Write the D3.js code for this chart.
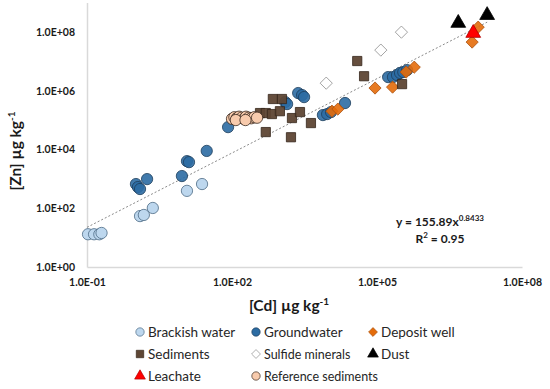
<!DOCTYPE html>
<html>
<head>
<meta charset="utf-8">
<script src="https://cdn.jsdelivr.net/npm/d3@7"></script>
<style>
  body { margin: 0; background: #fff; }
  text { font-family: Lato, "Open Sans", sans-serif; }
</style>
</head>
<body>
<svg id="chart" width="550" height="389"></svg>
<script>
// [Cd, Zn] pairs in µg/kg
const brackishWater = [
  [0.105, 13], [0.14, 13], [0.18, 13], [0.2, 14.4],
  [1.25, 54], [1.5, 59], [2.3, 102], [11.7, 390], [24, 665]
];
const groundwater = [
  [1.03, 665], [1.13, 525], [1.25, 450], [1.75, 980], [9.2, 1245],
  [11.7, 4000], [12.9, 3700], [30, 8900], [83, 57500],
  [1260, 410000], [1380, 350000], [2340, 830000], [2820, 710000], [3100, 605000],
  [7600, 148000], [9300, 160000], [11200, 187000], [21800, 380000],
  [170000, 2.9e6], [214000, 2.9e6], [260000, 3.4e6], [300000, 4.0e6],
  [350000, 4.3e6], [420000, 5.0e6]
];
const depositWell = [
  [11700, 2.0e5], [15500, 2.36e5], [91000, 1.23e6], [210000, 1.32e6],
  [400000, 4.3e6], [590000, 6.3e6], [9.3e6, 4.5e7], [1.24e7, 1.45e8]
];
const sediments = [
  [380, 1.73e5], [500, 1.73e5], [670, 1.6e5], [700, 5.2e5], [1080, 5.2e5],
  [980, 2.0e5], [1740, 1.17e5], [2550, 1.87e5], [4300, 7.9e4], [500, 3.9e4],
  [1660, 2.6e4], [39000, 1.02e7], [54000, 3.1e6], [330000, 1.67e6]
];
const sulfideMinerals = [[8900, 1.8e6], [120000, 2.4e7], [320000, 9.8e7]];
const dust = [[4.8e6, 2.0e8], [1.9e7, 3.7e8]];
const leachate = [[9.8e6, 9.1e7]];
const referenceSediments = [
  [100, 1.1e5], [112, 1.25e5], [125, 1.15e5], [140, 1.3e5], [158, 1.2e5],
  [175, 1.1e5], [195, 1.3e5], [220, 1.2e5], [250, 1.15e5], [290, 1.25e5],
  [330, 1.2e5], [120, 1.0e5], [190, 1.0e5]
];

const xTicks = [0.1, 1e2, 1e5, 1e8];
const yTicks = [1, 1e2, 1e4, 1e6, 1e8];

// power fit shown on the chart
const fitA = 155.89;
const fitB = 0.8433;
const fitR2 = 0.95;

const series = [
  { name: "Brackish water", data: brackishWater, shape: "circle", fill: "#bdd7ee", stroke: "#4d6b85" },
  { name: "Groundwater", data: groundwater, shape: "circle", fill: "#2c6ca3", stroke: "#1d3d5c", opacity: 0.9 },
  { name: "Deposit well", data: depositWell, shape: "diamond", fill: "#e46c0a", stroke: "#a9500f", opacity: 0.9 },
  { name: "Sediments", data: sediments, shape: "square", fill: "#5e4634", stroke: "#35261a", opacity: 0.95 },
  { name: "Sulfide minerals", data: sulfideMinerals, shape: "diamond", fill: "#ffffff", stroke: "#8c8c8c", font: "Liberation Sans" },
  { name: "Dust", data: dust, shape: "triangle", fill: "#000000", stroke: "#000000" },
  { name: "Leachate", data: leachate, shape: "triangle", fill: "#ff0000", stroke: "#b00000" },
  { name: "Reference sediments", data: referenceSediments, shape: "circle", fill: "#f8cbad", stroke: "#3a2a20", font: "Liberation Sans" }
];

const svg = d3.select("#chart");

const x = d3.scaleLog().domain([0.1, 1e8]).range([87, 522]);
const y = d3.scaleLog().domain([1, 1e9]).range([267, 2.5]);

function sciFormat(d) {
  const e = Math.round(Math.log10(d));
  return "1.0E" + (e < 0 ? "-" : "+") + String(Math.abs(e)).padStart(2, "0");
}

const symbolTypes = {
  circle: d3.symbolCircle,
  square: d3.symbolSquare,
  diamond: d3.symbolDiamond2,
  triangle: d3.symbolTriangle
};
const symbolSizes = { circle: 100, square: 85, diamond: 95, triangle: 95 };

// axes
const xAxis = svg.append("g")
  .attr("transform", "translate(0,267)")
  .call(d3.axisBottom(x).tickValues(xTicks).tickFormat(sciFormat).tickSize(0).tickPadding(12));

const yAxis = svg.append("g")
  .attr("transform", "translate(87,0)")
  .call(d3.axisLeft(y).tickValues(yTicks).tickFormat(sciFormat).tickSize(0).tickPadding(12));

[xAxis, yAxis].forEach(function (ax) {
  ax.select(".domain").attr("stroke", "#d9d9d9").attr("stroke-width", 1.5);
  ax.selectAll("text")
    .attr("font-family", "Lato, sans-serif")
    .attr("font-size", 10.5)
    .attr("font-weight", "bold")
    .attr("fill", "#1a1a1a");
});

// trend line
const xMax = d3.max(series, s => d3.max(s.data, d => d[0]));
svg.append("path")
  .datum([0.1, xMax])
  .attr("fill", "none")
  .attr("stroke", "#8a8a8a")
  .attr("stroke-width", 1)
  .attr("stroke-dasharray", "2,2")
  .attr("d", d3.line().x(d => x(d)).y(d => y(fitA * Math.pow(d, fitB))));

// points
series.forEach(function (s) {
  svg.append("g")
    .selectAll("path")
    .data(s.data)
    .enter()
    .append("path")
    .attr("transform", d => "translate(" + x(d[0]) + "," + y(d[1]) + ")")
    .attr("d", d3.symbol().type(symbolTypes[s.shape]).size(symbolSizes[s.shape]))
    .attr("fill", s.fill)
    .attr("fill-opacity", s.opacity || 1)
    .attr("stroke", s.stroke)
    .attr("stroke-width", 0.8);
});

// equation
const eq = svg.append("text")
  .attr("x", 440).attr("y", 226)
  .attr("text-anchor", "middle")
  .attr("font-size", 12).attr("font-weight", "bold").attr("fill", "#1a1a1a");
eq.append("tspan").text("y = " + fitA + "x");
eq.append("tspan").attr("dy", -5).attr("font-size", 8).text(String(fitB));

const r2 = svg.append("text")
  .attr("x", 440).attr("y", 243)
  .attr("text-anchor", "middle")
  .attr("font-size", 12).attr("font-weight", "bold").attr("fill", "#1a1a1a");
r2.append("tspan").text("R");
r2.append("tspan").attr("dy", -5).attr("font-size", 8).text("2");
r2.append("tspan").attr("dy", 5).text(" = " + fitR2.toFixed(2));

// axis titles
const xTitle = svg.append("text")
  .attr("x", 289).attr("y", 311)
  .attr("text-anchor", "middle")
  .attr("font-size", 15.5).attr("font-weight", "bold").attr("fill", "#1a1a1a");
xTitle.append("tspan").text("[Cd] µg kg");
xTitle.append("tspan").attr("dy", -6).attr("font-size", 10).text("-1");

const yTitle = svg.append("text")
  .attr("transform", "translate(21,151) rotate(-90)")
  .attr("text-anchor", "middle")
  .attr("font-size", 15.5).attr("font-weight", "bold").attr("fill", "#1a1a1a");
yTitle.append("tspan").text("[Zn] µg kg");
yTitle.append("tspan").attr("dy", -6).attr("font-size", 10).text("-1");

// legend, three columns
const legendCols = [140, 256, 373];
const legendRows = [332, 354, 376];
const legendMarkerSize = { circle: 55, square: 55, diamond: 50, triangle: 50 };

const legend = svg.append("g")
  .selectAll("g")
  .data(series)
  .enter()
  .append("g")
  .attr("transform", (d, i) => "translate(" + legendCols[i % 3] + "," + legendRows[Math.floor(i / 3)] + ")");

legend.append("path")
  .attr("d", d => d3.symbol().type(symbolTypes[d.shape]).size(legendMarkerSize[d.shape])())
  .attr("fill", d => d.fill)
  .attr("stroke", d => d.stroke)
  .attr("stroke-width", 0.7);

legend.append("text")
  .attr("x", 8)
  .attr("y", 4.5)
  .attr("font-family", d => d.font ? d.font + ", sans-serif" : "Lato, sans-serif")
  .attr("font-size", d => d.font ? 12.5 : 13.5)
  .attr("fill", "#262626")
  .text(d => d.name);
</script>
</body>
</html>
